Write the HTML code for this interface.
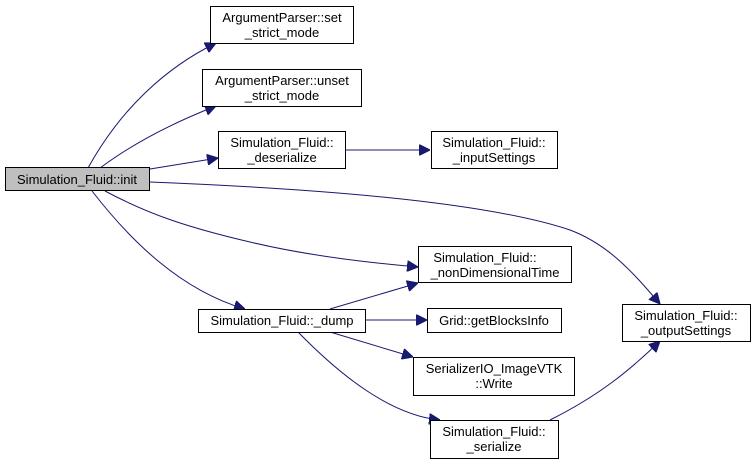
<!DOCTYPE html>
<html><head><meta charset="utf-8"><style>
html,body{margin:0;padding:0;background:#fff;}
svg{display:block;}
text{font-family:"Liberation Sans",sans-serif;font-size:13px;fill:#000;}
</style></head><body>
<svg width="756" height="464" viewBox="0 0 756 464" xmlns="http://www.w3.org/2000/svg">
<defs>
<marker id="a" viewBox="0 0 10 10" refX="10" refY="5" markerWidth="11" markerHeight="11" markerUnits="userSpaceOnUse" orient="auto">
<path d="M0,0 L10,5 L0,10 z" fill="#191970" stroke="#191970"/>
</marker>
</defs>
<g fill="none" stroke="#191970" stroke-width="1" marker-end="url(#a)">
<path d="M88,168 C120,110 165,68 216,43"/>
<path d="M100,168 C135,142 175,122 216,106"/>
<path d="M150,169 L218,158"/>
<path d="M345,150 L430,150"/>
<path d="M150,182 C300,188 480,200 570,230 C610,245 635,275 660,304"/>
<path d="M105,191 C150,215 190,228 250,242 C300,254 360,262 418,267"/>
<path d="M92,191 C130,240 180,290 245,309"/>
<path d="M330,309 L418,283"/>
<path d="M366,320 L427,320"/>
<path d="M330,332 L413,357"/>
<path d="M298,332 C340,375 390,415 440,420"/>
<path d="M550,420 C600,395 630,370 660,341"/>
</g>
<g stroke="#000" stroke-width="1">
<rect x="5.5" y="167.5" width="144" height="23" fill="#bfbfbf"/>
<rect x="210.5" y="6.5" width="143" height="37" fill="#fff"/>
<rect x="202.5" y="69.5" width="159" height="37" fill="#fff"/>
<rect x="218.5" y="131.5" width="127" height="37" fill="#fff"/>
<rect x="431.5" y="131.5" width="126" height="37" fill="#fff"/>
<rect x="418.5" y="246.5" width="153" height="36" fill="#fff"/>
<rect x="198.5" y="309.5" width="167" height="23" fill="#fff"/>
<rect x="427.5" y="308.5" width="134" height="24" fill="#fff"/>
<rect x="413.5" y="357.5" width="161" height="38" fill="#fff"/>
<rect x="430.5" y="420.5" width="128" height="38" fill="#fff"/>
<rect x="622.5" y="304.5" width="128" height="37" fill="#fff"/>
</g>
<g text-anchor="middle">
<text x="77" y="184">Simulation_Fluid::init</text>
<text x="282" y="22">ArgumentParser::set</text>
<text x="282" y="37">_strict_mode</text>
<text x="282" y="85">ArgumentParser::unset</text>
<text x="282" y="100">_strict_mode</text>
<text x="282" y="147">Simulation_Fluid::</text>
<text x="282" y="162">_deserialize</text>
<text x="494" y="147">Simulation_Fluid::</text>
<text x="494" y="162">_inputSettings</text>
<text x="485" y="262">Simulation_Fluid::</text>
<text x="495" y="277">_nonDimensionalTime</text>
<text x="282" y="325">Simulation_Fluid::_dump</text>
<text x="494" y="325">Grid::getBlocksInfo</text>
<text x="494" y="373">SerializerIO_ImageVTK</text>
<text x="494" y="388">::Write</text>
<text x="494" y="436">Simulation_Fluid::</text>
<text x="494" y="451">_serialize</text>
<text x="686" y="320">Simulation_Fluid::</text>
<text x="686" y="335">_outputSettings</text>
</g>
</svg>
</body></html>
